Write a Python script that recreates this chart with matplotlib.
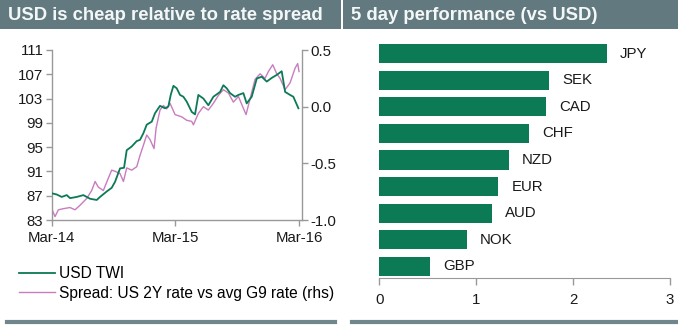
import matplotlib.pyplot as plt
from matplotlib.patches import Rectangle
from matplotlib.lines import Line2D

plt.rcParams['font.family'] = ['Liberation Sans', 'DejaVu Sans']

# USD TWI (lhs), months since Mar-14
twi_m = [0.0, 0.49, 0.97, 1.46, 1.78, 2.43, 3.07, 3.40, 3.72, 4.37, 4.69, 5.34, 5.82,
         6.15, 6.63, 7.02, 7.28, 7.76, 8.25, 8.57, 8.90, 9.22, 9.71, 10.03, 10.51,
         11.00, 11.32, 11.55, 11.81, 12.13, 12.45, 12.78, 13.10, 13.59, 13.91, 14.23,
         14.72, 15.20, 15.69, 16.34, 16.66, 16.98, 17.31, 17.79, 18.12, 18.60, 18.92,
         19.41, 19.90, 20.38, 20.87, 21.35, 21.84, 22.32, 22.65, 23.13, 23.45, 23.94]
twi = [87.4, 87.2, 86.8, 87.1, 86.6, 86.8, 87.1, 86.8, 86.5, 86.3, 86.8, 87.7, 88.3,
       89.3, 91.5, 91.6, 94.5, 95.1, 96.0, 96.2, 97.3, 98.7, 99.2, 100.6, 101.8,
       101.4, 101.7, 103.6, 105.1, 104.7, 103.6, 103.3, 102.5, 100.8, 100.4, 103.6,
       103.0, 101.9, 103.3, 104.1, 105.2, 104.7, 103.9, 103.3, 103.6, 103.9, 102.2,
       103.3, 106.3, 106.6, 105.8, 106.4, 106.9, 107.5, 104.1, 103.6, 103.3, 101.4]

# Spread: US 2Y rate vs avg G9 rate (rhs)
spr_m = [0.0, 0.32, 0.65, 1.13, 1.78, 2.26, 2.75, 3.07, 3.40, 3.88, 4.21, 4.53, 5.01,
         5.50, 5.82, 6.15, 6.63, 6.96, 7.28, 7.76, 8.25, 8.57, 8.90, 9.22, 9.54, 9.93,
         10.13, 10.51, 10.84, 11.16, 11.48, 11.97, 12.62, 13.10, 13.59, 13.75, 14.23,
         14.72, 15.20, 15.69, 16.18, 16.66, 17.15, 17.63, 18.12, 18.44, 18.86, 19.25,
         19.73, 20.22, 20.70, 21.03, 21.45, 21.84, 22.16, 22.65, 23.13, 23.62, 23.87, 24.0]
spread = [-0.90, -0.97, -0.91, -0.90, -0.89, -0.91, -0.87, -0.84, -0.81, -0.74, -0.66,
          -0.71, -0.74, -0.63, -0.56, -0.57, -0.59, -0.66, -0.54, -0.56, -0.53, -0.43,
          -0.34, -0.25, -0.29, -0.37, -0.19, -0.03, 0.01, -0.02, 0.03, -0.07, -0.09,
          -0.12, -0.13, -0.16, -0.06, 0.00, -0.03, 0.03, 0.10, 0.15, 0.12, 0.04, 0.09,
          0.02, -0.07, 0.07, 0.24, 0.29, 0.25, 0.31, 0.37, 0.29, 0.25, 0.15, 0.21, 0.34,
          0.38, 0.31]

# 5 day performance vs USD (%)
ccy = ['GBP', 'NOK', 'AUD', 'EUR', 'NZD', 'CHF', 'CAD', 'SEK', 'JPY']
perf = [0.52, 0.90, 1.16, 1.23, 1.34, 1.55, 1.72, 1.75, 2.35]

green = '#0b7a55'
pink = '#c87cbf'
bar_grey = '#62797f'
axis_grey = '#999999'

W, H = 678, 325
fig = plt.figure(figsize=(W / 100, H / 100), dpi=100)


def box(x0, y0, x1, y1):
    # pixel box (from top-left) -> figure fraction [l, b, w, h]
    return [x0 / W, 1 - y1 / H, (x1 - x0) / W, (y1 - y0) / H]


# header bars and footer rules
for x0, x1, txt in [(0, 341, 'USD is cheap relative to rate spread'),
                    (343, 678, '5 day performance (vs USD)')]:
    l, b, w, h = box(x0, 0, x1, 29)
    fig.add_artist(Rectangle((l, b), w, h, transform=fig.transFigure,
                             facecolor=bar_grey, edgecolor='none'))
    fig.text((x0 + 8) / W, 1 - 15 / H, txt, color='#f4f7f7', fontsize=13.3,
             fontweight='bold', va='center', ha='left')
for x0, x1 in [(7, 335), (352, 678)]:
    fig.add_artist(Line2D([x0 / W, x1 / W], [1 - 322 / H] * 2, transform=fig.transFigure,
                          color='#71868c', lw=3))

# left panel: USD TWI vs rate spread
ax = fig.add_axes(box(51.7, 50, 301.7, 220))
ax2 = ax.twinx()
l1, = ax.plot(twi_m, twi, color=green, lw=1.3, zorder=3)
l2, = ax2.plot(spr_m, spread, color=pink, lw=1.0)
ax.set_zorder(ax2.get_zorder() + 1)
ax.patch.set_visible(False)

ax.set_xlim(0, 24.26)
ax.set_ylim(83, 111)
ax2.set_ylim(-1.0, 0.5)
ax.set_yticks([83, 87, 91, 95, 99, 103, 107, 111])
ax2.set_yticks([-1.0, -0.5, 0.0, 0.5])
ax2.set_yticklabels(['-1.0', '-0.5', '0.0', '0.5'])
ax.set_xticks([0, 12, 24])
ax.set_xticklabels(['Mar-14', 'Mar-15', 'Mar-16'])

for a in (ax, ax2):
    a.spines['top'].set_visible(False)
    for s in a.spines.values():
        s.set_color(axis_grey)
        s.set_linewidth(1.0)
    a.tick_params(colors=axis_grey, labelcolor='#1a1a1a', labelsize=10.8,
                  length=4, width=1.0, direction='out', pad=2)
ax.tick_params(axis='x', pad=4)
ax2.spines['left'].set_visible(False)
ax2.spines['bottom'].set_visible(False)
ax.spines['right'].set_visible(False)

fig.legend([l1, l2], ['USD TWI', 'Spread: US 2Y rate vs avg G9 rate (rhs)'],
           loc='upper left', bbox_to_anchor=(19 / W, 1 - 266 / H), frameon=False,
           fontsize=11.2, handlelength=2.3, handletextpad=0.3, labelspacing=0.3,
           borderaxespad=0, borderpad=0)

# right panel: 5 day performance bars
bx = fig.add_axes(box(379.3, 38, 670, 278))
ypos = list(range(len(ccy)))
bx.barh(ypos, perf, height=0.72, color=green)
for y, v, name in zip(ypos, perf, ccy):
    bx.text(v + 0.135, y, name, va='center', ha='left', fontsize=10.8, color='#1a1a1a')
bx.set_xlim(0, 3)
bx.set_ylim(-0.435, 8.586)
bx.set_xticks([0, 1, 2, 3])
bx.set_yticks([])
for s in ['top', 'left', 'right']:
    bx.spines[s].set_visible(False)
bx.spines['bottom'].set_color(axis_grey)
bx.tick_params(axis='x', colors=axis_grey, labelcolor='#1a1a1a', labelsize=10.8,
               length=5, width=1.0, direction='out', pad=6)

fig.savefig('out.png', dpi=100)
